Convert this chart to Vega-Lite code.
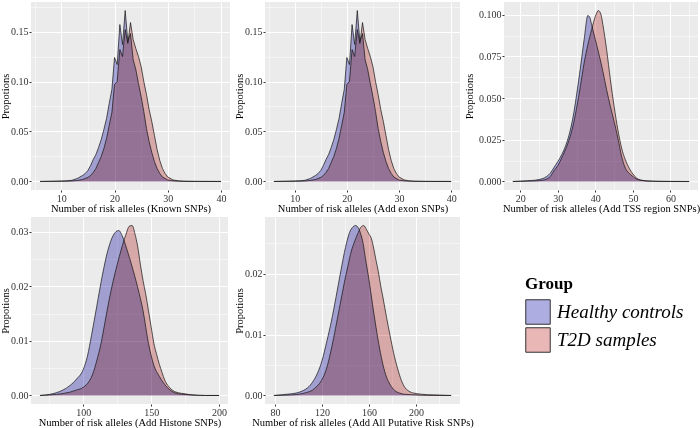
{
"$schema": "https://vega.github.io/schema/vega-lite/v6.json",
"background": "white",
"padding": {"left": 0, "top": 2, "right": 0, "bottom": 0},
"config": {
 "font": "Liberation Serif",
 "view": {"fill": "#EBEBEB", "stroke": null},
 "axis": {"domain": false, "grid": true, "gridColor": "#FFFFFF", "gridWidth": 1, "tickColor": "#333333", "tickSize": 2, "labelFontSize": 10, "labelColor": "#333333", "titleFontSize": 10.5, "titleFontWeight": "normal", "titleColor": "#000000", "labelPadding": 1},
 "axisX": {"titlePadding": 0},
 "axisY": {"titlePadding": 0}
},
"datasets": {
 "known": [
  {"group":"Healthy controls","x":6,"y":0},{"group":"Healthy controls","x":7,"y":0.0001},{"group":"Healthy controls","x":8,"y":0.0002},{"group":"Healthy controls","x":9,"y":0.0003},{"group":"Healthy controls","x":10,"y":0.0005},{"group":"Healthy controls","x":11,"y":0.0006},{"group":"Healthy controls","x":12,"y":0.0012},{"group":"Healthy controls","x":13,"y":0.003},{"group":"Healthy controls","x":14,"y":0.006},{"group":"Healthy controls","x":14.5,"y":0.008},{"group":"Healthy controls","x":15,"y":0.011},{"group":"Healthy controls","x":15.5,"y":0.016},{"group":"Healthy controls","x":16,"y":0.022},{"group":"Healthy controls","x":16.5,"y":0.027},{"group":"Healthy controls","x":17,"y":0.034},{"group":"Healthy controls","x":17.5,"y":0.042},{"group":"Healthy controls","x":18,"y":0.052},{"group":"Healthy controls","x":18.5,"y":0.063},{"group":"Healthy controls","x":19,"y":0.078},{"group":"Healthy controls","x":19.5,"y":0.092},{"group":"Healthy controls","x":20,"y":0.124},{"group":"Healthy controls","x":20.5,"y":0.117},{"group":"Healthy controls","x":21,"y":0.157},{"group":"Healthy controls","x":21.5,"y":0.137},{"group":"Healthy controls","x":22,"y":0.171},{"group":"Healthy controls","x":22.5,"y":0.14},{"group":"Healthy controls","x":23,"y":0.148},{"group":"Healthy controls","x":23.5,"y":0.122},{"group":"Healthy controls","x":24,"y":0.112},{"group":"Healthy controls","x":24.5,"y":0.098},{"group":"Healthy controls","x":25,"y":0.085},{"group":"Healthy controls","x":25.5,"y":0.07},{"group":"Healthy controls","x":26,"y":0.053},{"group":"Healthy controls","x":26.5,"y":0.04},{"group":"Healthy controls","x":27,"y":0.029},{"group":"Healthy controls","x":27.5,"y":0.02},{"group":"Healthy controls","x":28,"y":0.013},{"group":"Healthy controls","x":28.5,"y":0.008},{"group":"Healthy controls","x":29,"y":0.0045},{"group":"Healthy controls","x":30,"y":0.0015},{"group":"Healthy controls","x":31,"y":0.0006},{"group":"Healthy controls","x":32,"y":0.0003},{"group":"Healthy controls","x":34,"y":0.0001},{"group":"Healthy controls","x":36,"y":0},{"group":"Healthy controls","x":40,"y":0},
  {"group":"T2D samples","x":6,"y":0},{"group":"T2D samples","x":8,"y":0.0001},{"group":"T2D samples","x":10,"y":0.0002},{"group":"T2D samples","x":12,"y":0.0005},{"group":"T2D samples","x":13,"y":0.001},{"group":"T2D samples","x":14,"y":0.002},{"group":"T2D samples","x":15,"y":0.004},{"group":"T2D samples","x":15.5,"y":0.006},{"group":"T2D samples","x":16,"y":0.009},{"group":"T2D samples","x":16.5,"y":0.013},{"group":"T2D samples","x":17,"y":0.019},{"group":"T2D samples","x":17.5,"y":0.025},{"group":"T2D samples","x":18,"y":0.033},{"group":"T2D samples","x":18.5,"y":0.043},{"group":"T2D samples","x":19,"y":0.056},{"group":"T2D samples","x":19.5,"y":0.069},{"group":"T2D samples","x":20,"y":0.097},{"group":"T2D samples","x":20.5,"y":0.1},{"group":"T2D samples","x":21,"y":0.132},{"group":"T2D samples","x":21.5,"y":0.125},{"group":"T2D samples","x":22,"y":0.152},{"group":"T2D samples","x":22.5,"y":0.138},{"group":"T2D samples","x":23,"y":0.159},{"group":"T2D samples","x":23.5,"y":0.142},{"group":"T2D samples","x":24,"y":0.133},{"group":"T2D samples","x":24.5,"y":0.125},{"group":"T2D samples","x":25,"y":0.115},{"group":"T2D samples","x":25.5,"y":0.1},{"group":"T2D samples","x":26,"y":0.087},{"group":"T2D samples","x":26.5,"y":0.072},{"group":"T2D samples","x":27,"y":0.06},{"group":"T2D samples","x":27.5,"y":0.046},{"group":"T2D samples","x":28,"y":0.032},{"group":"T2D samples","x":28.5,"y":0.021},{"group":"T2D samples","x":29,"y":0.013},{"group":"T2D samples","x":29.5,"y":0.008},{"group":"T2D samples","x":30,"y":0.0045},{"group":"T2D samples","x":31,"y":0.0015},{"group":"T2D samples","x":32,"y":0.0006},{"group":"T2D samples","x":33,"y":0.0002},{"group":"T2D samples","x":35,"y":0.0001},{"group":"T2D samples","x":40,"y":0}
 ],
 "exon": [
  {"group":"Healthy controls","x":6,"y":0},{"group":"Healthy controls","x":7,"y":0.0001},{"group":"Healthy controls","x":8,"y":0.0002},{"group":"Healthy controls","x":9,"y":0.0003},{"group":"Healthy controls","x":10,"y":0.0005},{"group":"Healthy controls","x":11,"y":0.0006},{"group":"Healthy controls","x":12,"y":0.0012},{"group":"Healthy controls","x":13,"y":0.003},{"group":"Healthy controls","x":14,"y":0.006},{"group":"Healthy controls","x":14.5,"y":0.008},{"group":"Healthy controls","x":15,"y":0.011},{"group":"Healthy controls","x":15.5,"y":0.016},{"group":"Healthy controls","x":16,"y":0.022},{"group":"Healthy controls","x":16.5,"y":0.027},{"group":"Healthy controls","x":17,"y":0.034},{"group":"Healthy controls","x":17.5,"y":0.042},{"group":"Healthy controls","x":18,"y":0.052},{"group":"Healthy controls","x":18.5,"y":0.063},{"group":"Healthy controls","x":19,"y":0.078},{"group":"Healthy controls","x":19.5,"y":0.092},{"group":"Healthy controls","x":20,"y":0.124},{"group":"Healthy controls","x":20.5,"y":0.117},{"group":"Healthy controls","x":21,"y":0.157},{"group":"Healthy controls","x":21.5,"y":0.137},{"group":"Healthy controls","x":22,"y":0.171},{"group":"Healthy controls","x":22.5,"y":0.14},{"group":"Healthy controls","x":23,"y":0.148},{"group":"Healthy controls","x":23.5,"y":0.122},{"group":"Healthy controls","x":24,"y":0.112},{"group":"Healthy controls","x":24.5,"y":0.098},{"group":"Healthy controls","x":25,"y":0.085},{"group":"Healthy controls","x":25.5,"y":0.07},{"group":"Healthy controls","x":26,"y":0.053},{"group":"Healthy controls","x":26.5,"y":0.04},{"group":"Healthy controls","x":27,"y":0.029},{"group":"Healthy controls","x":27.5,"y":0.02},{"group":"Healthy controls","x":28,"y":0.013},{"group":"Healthy controls","x":28.5,"y":0.008},{"group":"Healthy controls","x":29,"y":0.0045},{"group":"Healthy controls","x":30,"y":0.0015},{"group":"Healthy controls","x":31,"y":0.0006},{"group":"Healthy controls","x":32,"y":0.0003},{"group":"Healthy controls","x":34,"y":0.0001},{"group":"Healthy controls","x":36,"y":0},{"group":"Healthy controls","x":40,"y":0},
  {"group":"T2D samples","x":6,"y":0},{"group":"T2D samples","x":8,"y":0.0001},{"group":"T2D samples","x":10,"y":0.0002},{"group":"T2D samples","x":12,"y":0.0005},{"group":"T2D samples","x":13,"y":0.001},{"group":"T2D samples","x":14,"y":0.002},{"group":"T2D samples","x":15,"y":0.004},{"group":"T2D samples","x":15.5,"y":0.006},{"group":"T2D samples","x":16,"y":0.009},{"group":"T2D samples","x":16.5,"y":0.013},{"group":"T2D samples","x":17,"y":0.019},{"group":"T2D samples","x":17.5,"y":0.025},{"group":"T2D samples","x":18,"y":0.033},{"group":"T2D samples","x":18.5,"y":0.043},{"group":"T2D samples","x":19,"y":0.056},{"group":"T2D samples","x":19.5,"y":0.069},{"group":"T2D samples","x":20,"y":0.097},{"group":"T2D samples","x":20.5,"y":0.1},{"group":"T2D samples","x":21,"y":0.132},{"group":"T2D samples","x":21.5,"y":0.125},{"group":"T2D samples","x":22,"y":0.152},{"group":"T2D samples","x":22.5,"y":0.138},{"group":"T2D samples","x":23,"y":0.159},{"group":"T2D samples","x":23.5,"y":0.142},{"group":"T2D samples","x":24,"y":0.133},{"group":"T2D samples","x":24.5,"y":0.125},{"group":"T2D samples","x":25,"y":0.115},{"group":"T2D samples","x":25.5,"y":0.1},{"group":"T2D samples","x":26,"y":0.087},{"group":"T2D samples","x":26.5,"y":0.072},{"group":"T2D samples","x":27,"y":0.06},{"group":"T2D samples","x":27.5,"y":0.046},{"group":"T2D samples","x":28,"y":0.032},{"group":"T2D samples","x":28.5,"y":0.021},{"group":"T2D samples","x":29,"y":0.013},{"group":"T2D samples","x":29.5,"y":0.008},{"group":"T2D samples","x":30,"y":0.0045},{"group":"T2D samples","x":31,"y":0.0015},{"group":"T2D samples","x":32,"y":0.0006},{"group":"T2D samples","x":33,"y":0.0002},{"group":"T2D samples","x":35,"y":0.0001},{"group":"T2D samples","x":40,"y":0}
 ],
 "tss": [
  {"group":"Healthy controls","x":18,"y":0},{"group":"Healthy controls","x":20,"y":0.0002},{"group":"Healthy controls","x":22,"y":0.0005},{"group":"Healthy controls","x":24,"y":0.0008},{"group":"Healthy controls","x":25,"y":0.0012},{"group":"Healthy controls","x":26,"y":0.0018},{"group":"Healthy controls","x":27,"y":0.003},{"group":"Healthy controls","x":28,"y":0.005},{"group":"Healthy controls","x":29,"y":0.0085},{"group":"Healthy controls","x":30,"y":0.012},{"group":"Healthy controls","x":31,"y":0.016},{"group":"Healthy controls","x":32,"y":0.021},{"group":"Healthy controls","x":33,"y":0.028},{"group":"Healthy controls","x":34,"y":0.038},{"group":"Healthy controls","x":35,"y":0.052},{"group":"Healthy controls","x":36,"y":0.068},{"group":"Healthy controls","x":37,"y":0.085},{"group":"Healthy controls","x":38,"y":0.0995},{"group":"Healthy controls","x":38.5,"y":0.0985},{"group":"Healthy controls","x":39,"y":0.094},{"group":"Healthy controls","x":40,"y":0.085},{"group":"Healthy controls","x":41,"y":0.076},{"group":"Healthy controls","x":42,"y":0.066},{"group":"Healthy controls","x":43,"y":0.055},{"group":"Healthy controls","x":44,"y":0.045},{"group":"Healthy controls","x":45,"y":0.036},{"group":"Healthy controls","x":46,"y":0.026},{"group":"Healthy controls","x":47,"y":0.015},{"group":"Healthy controls","x":48,"y":0.008},{"group":"Healthy controls","x":49,"y":0.005},{"group":"Healthy controls","x":50,"y":0.003},{"group":"Healthy controls","x":51,"y":0.0015},{"group":"Healthy controls","x":52,"y":0.0008},{"group":"Healthy controls","x":54,"y":0.0003},{"group":"Healthy controls","x":56,"y":0.0001},{"group":"Healthy controls","x":60,"y":0},{"group":"Healthy controls","x":65,"y":0},
  {"group":"T2D samples","x":18,"y":0},{"group":"T2D samples","x":22,"y":0.0002},{"group":"T2D samples","x":25,"y":0.0005},{"group":"T2D samples","x":26,"y":0.0008},{"group":"T2D samples","x":27,"y":0.0015},{"group":"T2D samples","x":28,"y":0.003},{"group":"T2D samples","x":29,"y":0.0065},{"group":"T2D samples","x":30,"y":0.0095},{"group":"T2D samples","x":31,"y":0.014},{"group":"T2D samples","x":32,"y":0.019},{"group":"T2D samples","x":33,"y":0.025},{"group":"T2D samples","x":34,"y":0.033},{"group":"T2D samples","x":35,"y":0.044},{"group":"T2D samples","x":36,"y":0.057},{"group":"T2D samples","x":37,"y":0.071},{"group":"T2D samples","x":38,"y":0.082},{"group":"T2D samples","x":39,"y":0.091},{"group":"T2D samples","x":40,"y":0.099},{"group":"T2D samples","x":40.8,"y":0.1025},{"group":"T2D samples","x":41.5,"y":0.1},{"group":"T2D samples","x":42,"y":0.094},{"group":"T2D samples","x":43,"y":0.079},{"group":"T2D samples","x":44,"y":0.061},{"group":"T2D samples","x":45,"y":0.045},{"group":"T2D samples","x":46,"y":0.031},{"group":"T2D samples","x":47,"y":0.02},{"group":"T2D samples","x":48,"y":0.013},{"group":"T2D samples","x":49,"y":0.008},{"group":"T2D samples","x":50,"y":0.0045},{"group":"T2D samples","x":51,"y":0.002},{"group":"T2D samples","x":52,"y":0.0009},{"group":"T2D samples","x":54,"y":0.0003},{"group":"T2D samples","x":57,"y":0.0001},{"group":"T2D samples","x":65,"y":0}
 ],
 "histone": [
  {"group":"Healthy controls","x":68,"y":0},{"group":"Healthy controls","x":75,"y":0.0002},{"group":"Healthy controls","x":80,"y":0.0005},{"group":"Healthy controls","x":85,"y":0.001},{"group":"Healthy controls","x":90,"y":0.0018},{"group":"Healthy controls","x":95,"y":0.003},{"group":"Healthy controls","x":100,"y":0.0048},{"group":"Healthy controls","x":103,"y":0.0072},{"group":"Healthy controls","x":106,"y":0.011},{"group":"Healthy controls","x":110,"y":0.0165},{"group":"Healthy controls","x":114,"y":0.022},{"group":"Healthy controls","x":118,"y":0.0265},{"group":"Healthy controls","x":122,"y":0.0293},{"group":"Healthy controls","x":126,"y":0.0302},{"group":"Healthy controls","x":129,"y":0.029},{"group":"Healthy controls","x":132,"y":0.0268},{"group":"Healthy controls","x":136,"y":0.0235},{"group":"Healthy controls","x":140,"y":0.0198},{"group":"Healthy controls","x":144,"y":0.0155},{"group":"Healthy controls","x":148,"y":0.0095},{"group":"Healthy controls","x":152,"y":0.0055},{"group":"Healthy controls","x":156,"y":0.0035},{"group":"Healthy controls","x":160,"y":0.002},{"group":"Healthy controls","x":165,"y":0.0008},{"group":"Healthy controls","x":170,"y":0.0003},{"group":"Healthy controls","x":180,"y":0.0001},{"group":"Healthy controls","x":190,"y":0},{"group":"Healthy controls","x":200,"y":0},
  {"group":"T2D samples","x":68,"y":0},{"group":"T2D samples","x":80,"y":0.0002},{"group":"T2D samples","x":90,"y":0.0006},{"group":"T2D samples","x":95,"y":0.001},{"group":"T2D samples","x":100,"y":0.0015},{"group":"T2D samples","x":104,"y":0.0025},{"group":"T2D samples","x":107,"y":0.004},{"group":"T2D samples","x":110,"y":0.0065},{"group":"T2D samples","x":113,"y":0.0095},{"group":"T2D samples","x":116,"y":0.0135},{"group":"T2D samples","x":119,"y":0.0175},{"group":"T2D samples","x":122,"y":0.021},{"group":"T2D samples","x":125,"y":0.024},{"group":"T2D samples","x":128,"y":0.0268},{"group":"T2D samples","x":131,"y":0.0292},{"group":"T2D samples","x":134,"y":0.031},{"group":"T2D samples","x":136,"y":0.0311},{"group":"T2D samples","x":138,"y":0.0296},{"group":"T2D samples","x":140,"y":0.0273},{"group":"T2D samples","x":142,"y":0.024},{"group":"T2D samples","x":144,"y":0.021},{"group":"T2D samples","x":146,"y":0.0185},{"group":"T2D samples","x":148,"y":0.0155},{"group":"T2D samples","x":150,"y":0.0125},{"group":"T2D samples","x":152,"y":0.0095},{"group":"T2D samples","x":154,"y":0.0075},{"group":"T2D samples","x":156,"y":0.0057},{"group":"T2D samples","x":158,"y":0.0042},{"group":"T2D samples","x":160,"y":0.0028},{"group":"T2D samples","x":163,"y":0.0016},{"group":"T2D samples","x":166,"y":0.0009},{"group":"T2D samples","x":170,"y":0.0005},{"group":"T2D samples","x":175,"y":0.0003},{"group":"T2D samples","x":180,"y":0.0001},{"group":"T2D samples","x":190,"y":0},{"group":"T2D samples","x":200,"y":0}
 ],
 "all": [
  {"group":"Healthy controls","x":79,"y":0},{"group":"Healthy controls","x":90,"y":0.0002},{"group":"Healthy controls","x":98,"y":0.0004},{"group":"Healthy controls","x":104,"y":0.0008},{"group":"Healthy controls","x":108,"y":0.0013},{"group":"Healthy controls","x":112,"y":0.0022},{"group":"Healthy controls","x":116,"y":0.0036},{"group":"Healthy controls","x":120,"y":0.0057},{"group":"Healthy controls","x":124,"y":0.0088},{"group":"Healthy controls","x":128,"y":0.0122},{"group":"Healthy controls","x":132,"y":0.0162},{"group":"Healthy controls","x":136,"y":0.0204},{"group":"Healthy controls","x":140,"y":0.0243},{"group":"Healthy controls","x":144,"y":0.027},{"group":"Healthy controls","x":146,"y":0.0276},{"group":"Healthy controls","x":148.5,"y":0.0279},{"group":"Healthy controls","x":151,"y":0.0275},{"group":"Healthy controls","x":153,"y":0.0265},{"group":"Healthy controls","x":155,"y":0.025},{"group":"Healthy controls","x":157,"y":0.0225},{"group":"Healthy controls","x":160,"y":0.019},{"group":"Healthy controls","x":163,"y":0.015},{"group":"Healthy controls","x":166,"y":0.0112},{"group":"Healthy controls","x":169,"y":0.0078},{"group":"Healthy controls","x":172,"y":0.005},{"group":"Healthy controls","x":175,"y":0.003},{"group":"Healthy controls","x":178,"y":0.0018},{"group":"Healthy controls","x":182,"y":0.0008},{"group":"Healthy controls","x":186,"y":0.0004},{"group":"Healthy controls","x":190,"y":0.0002},{"group":"Healthy controls","x":200,"y":0.0001},{"group":"Healthy controls","x":210,"y":0},{"group":"Healthy controls","x":230,"y":0},
  {"group":"T2D samples","x":79,"y":0},{"group":"T2D samples","x":95,"y":0.0001},{"group":"T2D samples","x":103,"y":0.0003},{"group":"T2D samples","x":107,"y":0.0005},{"group":"T2D samples","x":112,"y":0.0009},{"group":"T2D samples","x":115,"y":0.0014},{"group":"T2D samples","x":118,"y":0.002},{"group":"T2D samples","x":121,"y":0.003},{"group":"T2D samples","x":124,"y":0.0045},{"group":"T2D samples","x":127,"y":0.0068},{"group":"T2D samples","x":130,"y":0.0095},{"group":"T2D samples","x":133,"y":0.0125},{"group":"T2D samples","x":136,"y":0.0155},{"group":"T2D samples","x":139,"y":0.0185},{"group":"T2D samples","x":142,"y":0.0212},{"group":"T2D samples","x":145,"y":0.0237},{"group":"T2D samples","x":148,"y":0.0254},{"group":"T2D samples","x":151,"y":0.0268},{"group":"T2D samples","x":153,"y":0.0276},{"group":"T2D samples","x":155.5,"y":0.0279},{"group":"T2D samples","x":158,"y":0.0272},{"group":"T2D samples","x":160,"y":0.0265},{"group":"T2D samples","x":162,"y":0.0258},{"group":"T2D samples","x":164,"y":0.0242},{"group":"T2D samples","x":166,"y":0.0222},{"group":"T2D samples","x":168,"y":0.0203},{"group":"T2D samples","x":170,"y":0.018},{"group":"T2D samples","x":172,"y":0.016},{"group":"T2D samples","x":175,"y":0.0128},{"group":"T2D samples","x":178,"y":0.0098},{"group":"T2D samples","x":181,"y":0.007},{"group":"T2D samples","x":184,"y":0.0047},{"group":"T2D samples","x":187,"y":0.0028},{"group":"T2D samples","x":190,"y":0.0015},{"group":"T2D samples","x":194,"y":0.0007},{"group":"T2D samples","x":198,"y":0.0004},{"group":"T2D samples","x":205,"y":0.0002},{"group":"T2D samples","x":215,"y":0.0001},{"group":"T2D samples","x":230,"y":0}
 ]
},
"vconcat": [
 {"spacing": 4, "hconcat": [
  {"width": 199, "height": 188, "data": {"name": "known"},
   "layer": [
    {"mark": {"type": "area", "blend": "multiply", "interpolate": "linear"},
     "encoding": {
      "x": {"field": "x", "type": "quantitative", "scale": {"domain": [4.3, 41.7], "nice": false, "zero": false}, "axis": {"values": [10, 20, 30, 40], "title": "Number of risk alleles (Known SNPs)"}},
      "y": {"field": "y", "type": "quantitative", "stack": null, "scale": {"domain": [-0.00855, 0.17955], "nice": false, "zero": false}, "axis": {"values": [0, 0.05, 0.1, 0.15], "format": ".2f", "title": "Propotions"}},
      "color": {"field": "group", "type": "nominal", "scale": {"domain": ["Healthy controls", "T2D samples"], "range": ["#AEADE2", "#EAB7B7"]},
       "legend": {"title": "Group", "orient": "none", "legendX": 494, "legendY": 274, "titleFontSize": 17, "titleFontWeight": "bold", "titleColor": "#000000", "titlePadding": 6, "labelFontSize": 19, "labelFontStyle": "italic", "labelColor": "#000000", "symbolType": "square", "symbolSize": 600, "symbolStrokeColor": "#333333", "symbolStrokeWidth": 1, "symbolOpacity": 1, "rowPadding": -2, "labelOffset": 6,
        "encode": {"symbols": {"update": {"fill": {"signal": "datum.value === 'Healthy controls' ? '#A09FD0' : '#D8A9A9'"}, "fillOpacity": {"value": 1}, "stroke": {"value": "#333333"}, "strokeWidth": {"value": 1}}}}}}
     }},
    {"mark": {"type": "line", "color": "#111111", "strokeWidth": 0.7, "interpolate": "linear"},
     "encoding": {
      "x": {"field": "x", "type": "quantitative", "axis": {"orient": "bottom", "values": [5, 15, 25, 35], "labels": false, "ticks": false, "domain": false, "title": null, "grid": true, "gridWidth": 0.5}},
      "y": {"field": "y", "type": "quantitative", "axis": {"orient": "left", "values": [0.025, 0.075, 0.125, 0.175], "labels": false, "ticks": false, "domain": false, "title": null, "grid": true, "gridWidth": 0.5}},
      "detail": {"field": "group"}
     }}
   ],
   "resolve": {"axis": {"x": "independent", "y": "independent"}}},
  {"width": 195, "height": 188, "data": {"name": "exon"},
   "layer": [
    {"mark": {"type": "area", "blend": "multiply", "interpolate": "linear"},
     "encoding": {
      "x": {"field": "x", "type": "quantitative", "scale": {"domain": [4.3, 41.7], "nice": false, "zero": false}, "axis": {"values": [10, 20, 30, 40], "title": "Number of risk alleles (Add exon SNPs)"}},
      "y": {"field": "y", "type": "quantitative", "stack": null, "scale": {"domain": [-0.00855, 0.17955], "nice": false, "zero": false}, "axis": {"values": [0, 0.05, 0.1, 0.15], "format": ".2f", "title": "Propotions"}},
      "color": {"field": "group", "type": "nominal", "scale": {"domain": ["Healthy controls", "T2D samples"], "range": ["#AEADE2", "#EAB7B7"]},
       "legend": {"title": "Group", "orient": "none", "legendX": 494, "legendY": 274, "titleFontSize": 17, "titleFontWeight": "bold", "titleColor": "#000000", "titlePadding": 6, "labelFontSize": 19, "labelFontStyle": "italic", "labelColor": "#000000", "symbolType": "square", "symbolSize": 600, "symbolStrokeColor": "#333333", "symbolStrokeWidth": 1, "symbolOpacity": 1, "rowPadding": -2, "labelOffset": 6,
        "encode": {"symbols": {"update": {"fill": {"signal": "datum.value === 'Healthy controls' ? '#A09FD0' : '#D8A9A9'"}, "fillOpacity": {"value": 1}, "stroke": {"value": "#333333"}, "strokeWidth": {"value": 1}}}}}}
     }},
    {"mark": {"type": "line", "color": "#111111", "strokeWidth": 0.7, "interpolate": "linear"},
     "encoding": {
      "x": {"field": "x", "type": "quantitative", "axis": {"orient": "bottom", "values": [5, 15, 25, 35], "labels": false, "ticks": false, "domain": false, "title": null, "grid": true, "gridWidth": 0.5}},
      "y": {"field": "y", "type": "quantitative", "axis": {"orient": "left", "values": [0.025, 0.075, 0.125, 0.175], "labels": false, "ticks": false, "domain": false, "title": null, "grid": true, "gridWidth": 0.5}},
      "detail": {"field": "group"}
     }}
   ],
   "resolve": {"axis": {"x": "independent", "y": "independent"}}},
  {"width": 194, "height": 188, "data": {"name": "tss"},
   "layer": [
    {"mark": {"type": "area", "blend": "multiply", "interpolate": "monotone"},
     "encoding": {
      "x": {"field": "x", "type": "quantitative", "scale": {"domain": [15.65, 67.35], "nice": false, "zero": false}, "axis": {"values": [20, 30, 40, 50, 60], "title": "Number of risk alleles (Add TSS region SNPs)"}},
      "y": {"field": "y", "type": "quantitative", "stack": null, "scale": {"domain": [-0.0051, 0.1076], "nice": false, "zero": false}, "axis": {"values": [0, 0.025, 0.05, 0.075, 0.1], "format": ".3f", "title": "Propotions", "titlePadding": 4}},
      "color": {"field": "group", "type": "nominal", "scale": {"domain": ["Healthy controls", "T2D samples"], "range": ["#AEADE2", "#EAB7B7"]},
       "legend": {"title": "Group", "orient": "none", "legendX": 494, "legendY": 274, "titleFontSize": 17, "titleFontWeight": "bold", "titleColor": "#000000", "titlePadding": 6, "labelFontSize": 19, "labelFontStyle": "italic", "labelColor": "#000000", "symbolType": "square", "symbolSize": 600, "symbolStrokeColor": "#333333", "symbolStrokeWidth": 1, "symbolOpacity": 1, "rowPadding": -2, "labelOffset": 6,
        "encode": {"symbols": {"update": {"fill": {"signal": "datum.value === 'Healthy controls' ? '#A09FD0' : '#D8A9A9'"}, "fillOpacity": {"value": 1}, "stroke": {"value": "#333333"}, "strokeWidth": {"value": 1}}}}}}
     }},
    {"mark": {"type": "line", "color": "#111111", "strokeWidth": 0.7, "interpolate": "monotone"},
     "encoding": {
      "x": {"field": "x", "type": "quantitative", "axis": {"orient": "bottom", "values": [25, 35, 45, 55, 65], "labels": false, "ticks": false, "domain": false, "title": null, "grid": true, "gridWidth": 0.5}},
      "y": {"field": "y", "type": "quantitative", "axis": {"orient": "left", "values": [0.0125, 0.0375, 0.0625, 0.0875], "labels": false, "ticks": false, "domain": false, "title": null, "grid": true, "gridWidth": 0.5}},
      "detail": {"field": "group"}
     }}
   ],
   "resolve": {"axis": {"x": "independent", "y": "independent"}}}
 ]},
 {"spacing": 6, "hconcat": [
  {"width": 197, "height": 187, "data": {"name": "histone"},
   "layer": [
    {"mark": {"type": "area", "blend": "multiply", "interpolate": "monotone"},
     "encoding": {
      "x": {"field": "x", "type": "quantitative", "scale": {"domain": [61.4, 206.6], "nice": false, "zero": false}, "axis": {"values": [100, 150, 200], "title": "Number of risk alleles (Add Histone SNPs)"}},
      "y": {"field": "y", "type": "quantitative", "stack": null, "scale": {"domain": [-0.00156, 0.03266], "nice": false, "zero": false}, "axis": {"values": [0, 0.01, 0.02, 0.03], "format": ".2f", "title": "Propotions"}},
      "color": {"field": "group", "type": "nominal", "scale": {"domain": ["Healthy controls", "T2D samples"], "range": ["#AEADE2", "#EAB7B7"]},
       "legend": {"title": "Group", "orient": "none", "legendX": 494, "legendY": 274, "titleFontSize": 17, "titleFontWeight": "bold", "titleColor": "#000000", "titlePadding": 6, "labelFontSize": 19, "labelFontStyle": "italic", "labelColor": "#000000", "symbolType": "square", "symbolSize": 600, "symbolStrokeColor": "#333333", "symbolStrokeWidth": 1, "symbolOpacity": 1, "rowPadding": -2, "labelOffset": 6,
        "encode": {"symbols": {"update": {"fill": {"signal": "datum.value === 'Healthy controls' ? '#A09FD0' : '#D8A9A9'"}, "fillOpacity": {"value": 1}, "stroke": {"value": "#333333"}, "strokeWidth": {"value": 1}}}}}}
     }},
    {"mark": {"type": "line", "color": "#111111", "strokeWidth": 0.7, "interpolate": "monotone"},
     "encoding": {
      "x": {"field": "x", "type": "quantitative", "axis": {"orient": "bottom", "values": [75, 125, 175], "labels": false, "ticks": false, "domain": false, "title": null, "grid": true, "gridWidth": 0.5}},
      "y": {"field": "y", "type": "quantitative", "axis": {"orient": "left", "values": [0.005, 0.015, 0.025], "labels": false, "ticks": false, "domain": false, "title": null, "grid": true, "gridWidth": 0.5}},
      "detail": {"field": "group"}
     }}
   ],
   "resolve": {"axis": {"x": "independent", "y": "independent"}}},
  {"width": 195, "height": 187, "data": {"name": "all"},
   "layer": [
    {"mark": {"type": "area", "blend": "multiply", "interpolate": "monotone"},
     "encoding": {
      "x": {"field": "x", "type": "quantitative", "scale": {"domain": [71.45, 237.55], "nice": false, "zero": false}, "axis": {"values": [80, 120, 160, 200], "title": "Number of risk alleles (Add All Putative Risk SNPs)"}},
      "y": {"field": "y", "type": "quantitative", "stack": null, "scale": {"domain": [-0.0014, 0.0293], "nice": false, "zero": false}, "axis": {"values": [0, 0.01, 0.02], "format": ".2f", "title": "Propotions"}},
      "color": {"field": "group", "type": "nominal", "scale": {"domain": ["Healthy controls", "T2D samples"], "range": ["#AEADE2", "#EAB7B7"]},
       "legend": {"title": "Group", "orient": "none", "legendX": 494, "legendY": 274, "titleFontSize": 17, "titleFontWeight": "bold", "titleColor": "#000000", "titlePadding": 6, "labelFontSize": 19, "labelFontStyle": "italic", "labelColor": "#000000", "symbolType": "square", "symbolSize": 600, "symbolStrokeColor": "#333333", "symbolStrokeWidth": 1, "symbolOpacity": 1, "rowPadding": -2, "labelOffset": 6,
        "encode": {"symbols": {"update": {"fill": {"signal": "datum.value === 'Healthy controls' ? '#A09FD0' : '#D8A9A9'"}, "fillOpacity": {"value": 1}, "stroke": {"value": "#333333"}, "strokeWidth": {"value": 1}}}}}}
     }},
    {"mark": {"type": "line", "color": "#111111", "strokeWidth": 0.7, "interpolate": "monotone"},
     "encoding": {
      "x": {"field": "x", "type": "quantitative", "axis": {"orient": "bottom", "values": [100, 140, 180, 220], "labels": false, "ticks": false, "domain": false, "title": null, "grid": true, "gridWidth": 0.5}},
      "y": {"field": "y", "type": "quantitative", "axis": {"orient": "left", "values": [0.005, 0.015, 0.025], "labels": false, "ticks": false, "domain": false, "title": null, "grid": true, "gridWidth": 0.5}},
      "detail": {"field": "group"}
     }}
   ],
   "resolve": {"axis": {"x": "independent", "y": "independent"}}}
 ]}
],
"spacing": 3
}
